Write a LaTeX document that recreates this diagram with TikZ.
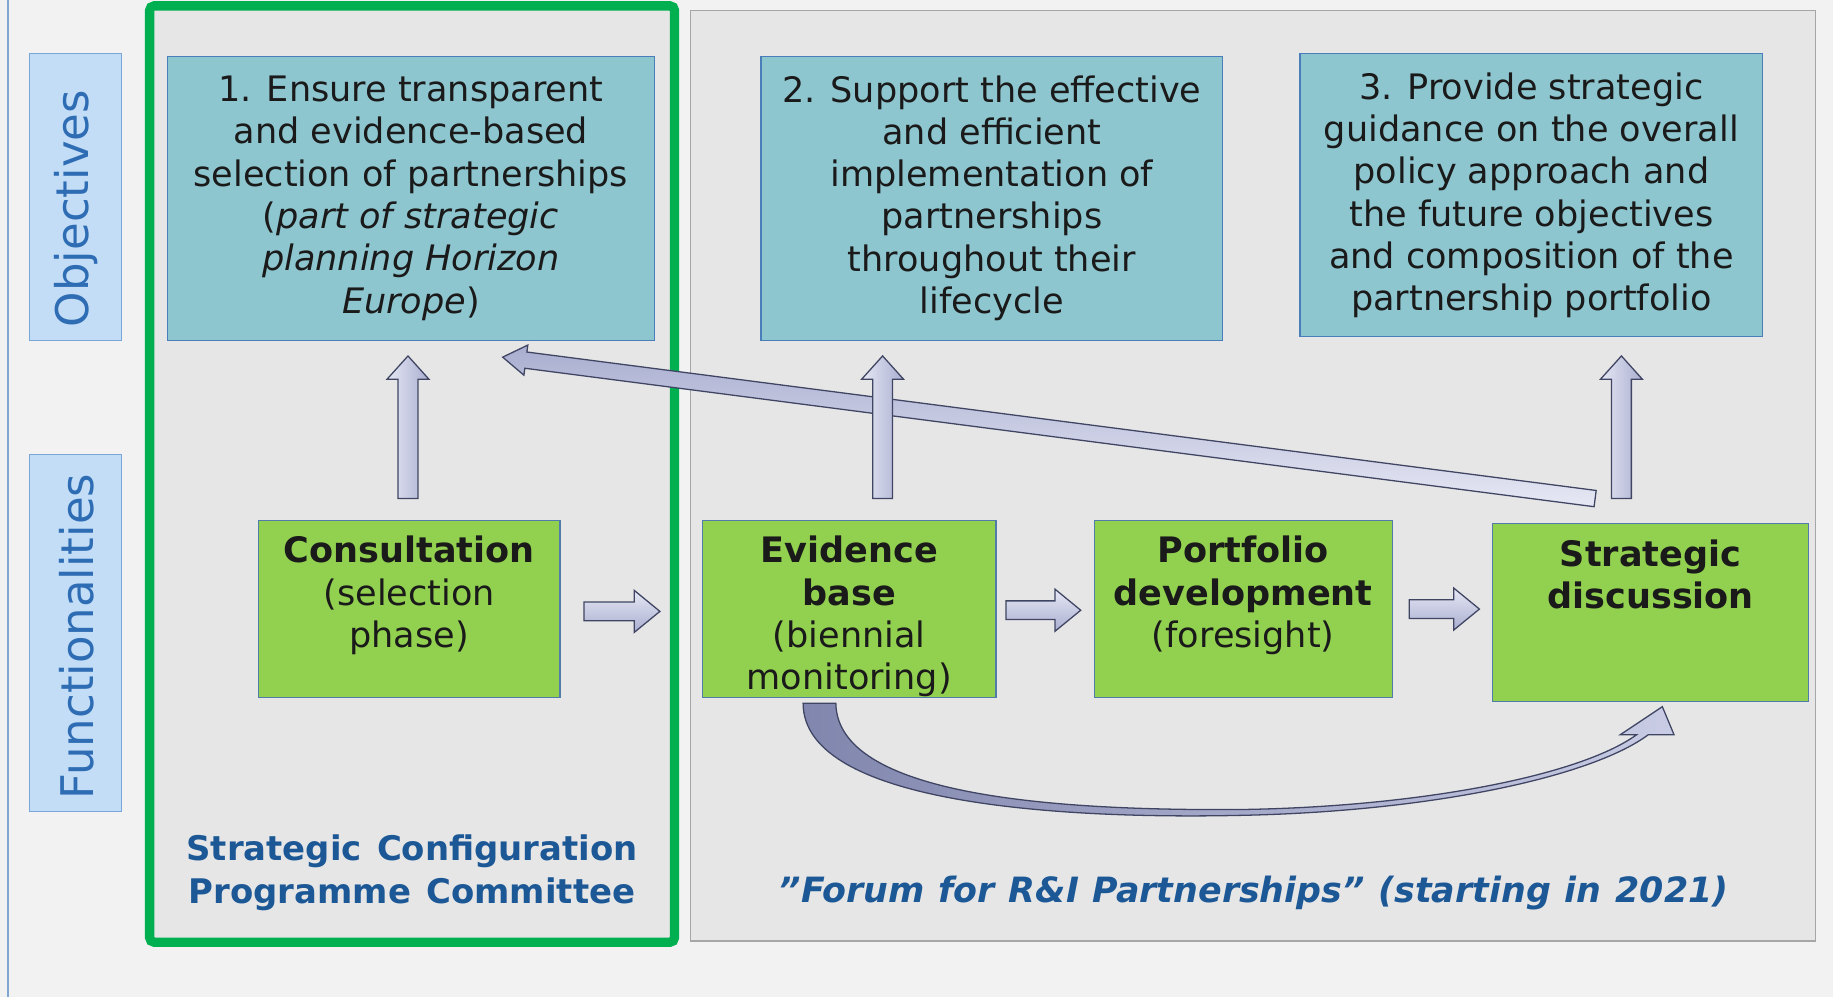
\documentclass[tikz,border=0pt]{standalone}
\usepackage{fontspec}
\setmainfont{DejaVu Sans}
\usetikzlibrary{calc}
\definecolor{bgc}{HTML}{F2F2F2}
\definecolor{panelc}{HTML}{E6E6E6}
\definecolor{panelb}{HTML}{A6A6A6}
\definecolor{framec}{HTML}{00B050}
\definecolor{objfill}{HTML}{8EC6D0}
\definecolor{objbord}{HTML}{4A7EBB}
\definecolor{grnfill}{HTML}{92D050}
\definecolor{grnbord}{HTML}{517BA8}
\definecolor{labfill}{HTML}{C3DDF7}
\definecolor{labbord}{HTML}{7AA7DA}
\definecolor{labtxt}{HTML}{2E6DB4}
\definecolor{bottxt}{HTML}{1C5896}
\definecolor{txtc}{HTML}{1A1A1A}
\definecolor{arrL}{HTML}{E6E8F4}
\definecolor{arrD}{HTML}{A9AED0}
\definecolor{arrO}{HTML}{3F4563}
\definecolor{curL}{HTML}{C9CCE4}
\definecolor{curD}{HTML}{8186AE}
\newcommand\blkarrow[7]{% name, start, end, shaft half, head half, head length, shading
  \coordinate (#1h) at ($(#3)!#6!(#2)$);
  \draw[arrowline,#7] ($(#2)!#4!90:(#3)$) -- ($(#1h)!#4!90:(#3)$) -- ($(#1h)!#5!90:(#3)$)
     -- (#3) -- ($(#1h)!#5!-90:(#3)$) -- ($(#1h)!#4!-90:(#3)$) -- ($(#2)!#4!-90:(#3)$) -- cycle;}
\tikzset{
  arrowline/.style={draw=arrO, line width=1.1pt, line join=miter},
  boxfont/.style={font=\fontsize{30}{36.2}\selectfont, text=txtc},
  objbox/.style={draw=objbord, fill=objfill, line width=1pt, align=center, boxfont, inner sep=0pt},
  grnbox/.style={draw=grnbord, fill=grnfill, line width=1pt, inner sep=0pt},
  grntext/.style={align=center, boxfont, anchor=north, inner sep=0pt},
  labbox/.style={draw=labbord, fill=labfill, line width=1pt, inner sep=0pt},
  labtext/.style={rotate=90, font=\fontsize{38.5}{40}\selectfont, text=labtxt, inner sep=0pt},
  bottext/.style={align=center, text=bottxt, inner sep=0pt}
}
\begin{document}
\begin{tikzpicture}[x=1pt,y=-1pt]
\useasboundingbox (0,0) rectangle (1568,853);
\fill[bgc] (0,0) rectangle (1568,853);
\draw[color=objbord!70, line width=1.5pt] (7,0) -- (7,853);
% panels
\draw[fill=panelc, draw=panelb, line width=1pt] (591,9) rectangle (1553,805);
\draw[fill=panelc, draw=framec, line width=8pt, rounded corners=4pt] (128,5) rectangle (577,806);
% side labels
\node[labbox, minimum width=79pt, minimum height=245pt] (obj) at (64.5,168.5) {};
\node[labtext] (objt) at ([xshift=1pt,yshift=-10pt]obj.center) {Objectives};
\node[labbox, minimum width=79pt, minimum height=305pt] (fun) at (64.5,541.5) {};
\node[labtext] (funt) at ([xshift=1pt,yshift=-3pt]fun.center) {Functionalities};
% objectives
\node[objbox, minimum width=417pt, minimum height=243pt] (o1) at (351.5,169.5)
  {1. Ensure transparent\\and evidence-based\\selection of partnerships\\(\textit{part of strategic}\\\textit{planning Horizon}\\\textit{Europe})};
\node[objbox, minimum width=395pt, minimum height=243pt] (o2) at (848.5,169.5)
  {2. Support the effective\\and efficient\\implementation of\\partnerships\\throughout their\\lifecycle};
\node[objbox, minimum width=396pt, minimum height=242pt] (o3) at (1310,167)
  {3. Provide strategic\\guidance on the overall\\policy approach and\\the future objectives\\and composition of the\\partnership portfolio};
% functionalities
\node[grnbox, minimum width=258pt, minimum height=152pt] (con) at (350,521) {};
\node[grntext] (cont) at ([yshift=-14pt]con.north) {\textbf{Consultation}\\(selection\\phase)};
\node[grnbox, minimum width=251pt, minimum height=152pt] (ev) at (726.5,521) {};
\node[grntext] (evt) at ([yshift=-14pt]ev.north) {\textbf{Evidence}\\\textbf{base}\\(biennial\\monitoring)};
\node[grnbox, minimum width=255pt, minimum height=152pt] (pf) at (1063.5,521) {};
\node[grntext] (pft) at ([yshift=-14pt]pf.north) {\textbf{Portfolio}\\\textbf{development}\\(foresight)};
\node[grnbox, minimum width=270pt, minimum height=152pt] (sd) at (1412,524) {};
\node[grntext] (sdt) at ([yshift=-14pt]sd.north) {\textbf{Strategic}\\\textbf{discussion}};
% bottom labels
\node[bottext, font=\bfseries\fontsize{29}{37}\selectfont] (scpc) at (352.5,746.5)
  {Strategic\hspace{0.45em}Configuration\\Programme\hspace{0.45em}Committee};
\node[bottext, font=\bfseries\itshape\fontsize{29.8}{37}\selectfont] (forum) at (1072.5,763.5)
  {\char34 Forum\hspace{0.4em}for\hspace{0.4em}R\&I\hspace{0.4em}Partnerships\char34\hspace{0.4em}(starting\hspace{0.4em}in\hspace{0.4em}2021)};
% diagonal arrow
\coordinate (dgs) at ([xshift=88pt,yshift=21pt]sd.north west);
\coordinate (dge) at ([xshift=78.5pt,yshift=-14pt]o1.south);
\blkarrow{dg}{dgs}{dge}{7pt}{13pt}{20pt}{top color=arrD, bottom color=arrL}
% up arrows
\coordinate (u1s) at ([xshift=-1pt,yshift=18pt]con.north);
\coordinate (u1e) at ([xshift=-2.5pt,yshift=-13pt]o1.south);
\blkarrow{ua}{u1s}{u1e}{8.5pt}{18pt}{20pt}{left color=arrL, right color=arrD}
\coordinate (u2s) at ([xshift=28.5pt,yshift=18pt]ev.north);
\coordinate (u2e) at ([xshift=-93.5pt,yshift=-13pt]o2.south);
\blkarrow{ub}{u2s}{u2e}{8.5pt}{18pt}{20pt}{left color=arrL, right color=arrD}
\coordinate (u3s) at ([xshift=-25pt,yshift=21pt]sd.north);
\coordinate (u3e) at ([xshift=77pt,yshift=-16pt]o3.south);
\blkarrow{uc}{u3s}{u3e}{8.5pt}{18pt}{20pt}{left color=arrL, right color=arrD}
% right arrows
\coordinate (r1s) at ([xshift=20pt,yshift=-2pt]con.east);
\coordinate (r1e) at ([xshift=-36pt,yshift=-2pt]ev.west);
\blkarrow{ra}{r1s}{r1e}{8pt}{18pt}{22pt}{top color=arrL, bottom color=arrD}
\coordinate (r2s) at ([xshift=8pt,yshift=-1pt]ev.east);
\coordinate (r2e) at ([xshift=-11pt,yshift=-1pt]pf.west);
\blkarrow{rb}{r2s}{r2e}{8pt}{18pt}{22pt}{top color=arrL, bottom color=arrD}
\coordinate (r3s) at ([xshift=14pt]pf.east);
\coordinate (r3e) at ([xshift=-11pt,yshift=3pt]sd.west);
\blkarrow{rc}{r3s}{r3e}{8pt}{18pt}{22pt}{top color=arrL, bottom color=arrD}
% curved arrow
\coordinate (cs) at ([xshift=-25.5pt,yshift=-3pt]ev.south);
\coordinate (ce) at ([xshift=10pt,yshift=-4pt]sd.south);
\draw[arrowline, left color=curD, right color=curL]
  ($(cs)+(-14,1)$) .. controls ($(cs)+(-14,90)$) and ($(cs)+(219,100)$) .. ($(cs)+(359,97)$)
  .. controls ($(ce)+(-202,90)$) and ($(ce)+(-62,61)$) .. ($(ce)+(-12,24)$)
  -- ($(ce)+(10,24)$) -- (ce) -- ($(ce)+(-36,24)$) -- ($(ce)+(-22,24)$)
  .. controls ($(ce)+(-72,60)$) and ($(ce)+(-212,86)$) .. ($(cs)+(359,92)$)
  .. controls ($(cs)+(199,93)$) and ($(cs)+(15,80)$) .. ($(cs)+(14,1)$) -- cycle;
\end{tikzpicture}
\end{document}
